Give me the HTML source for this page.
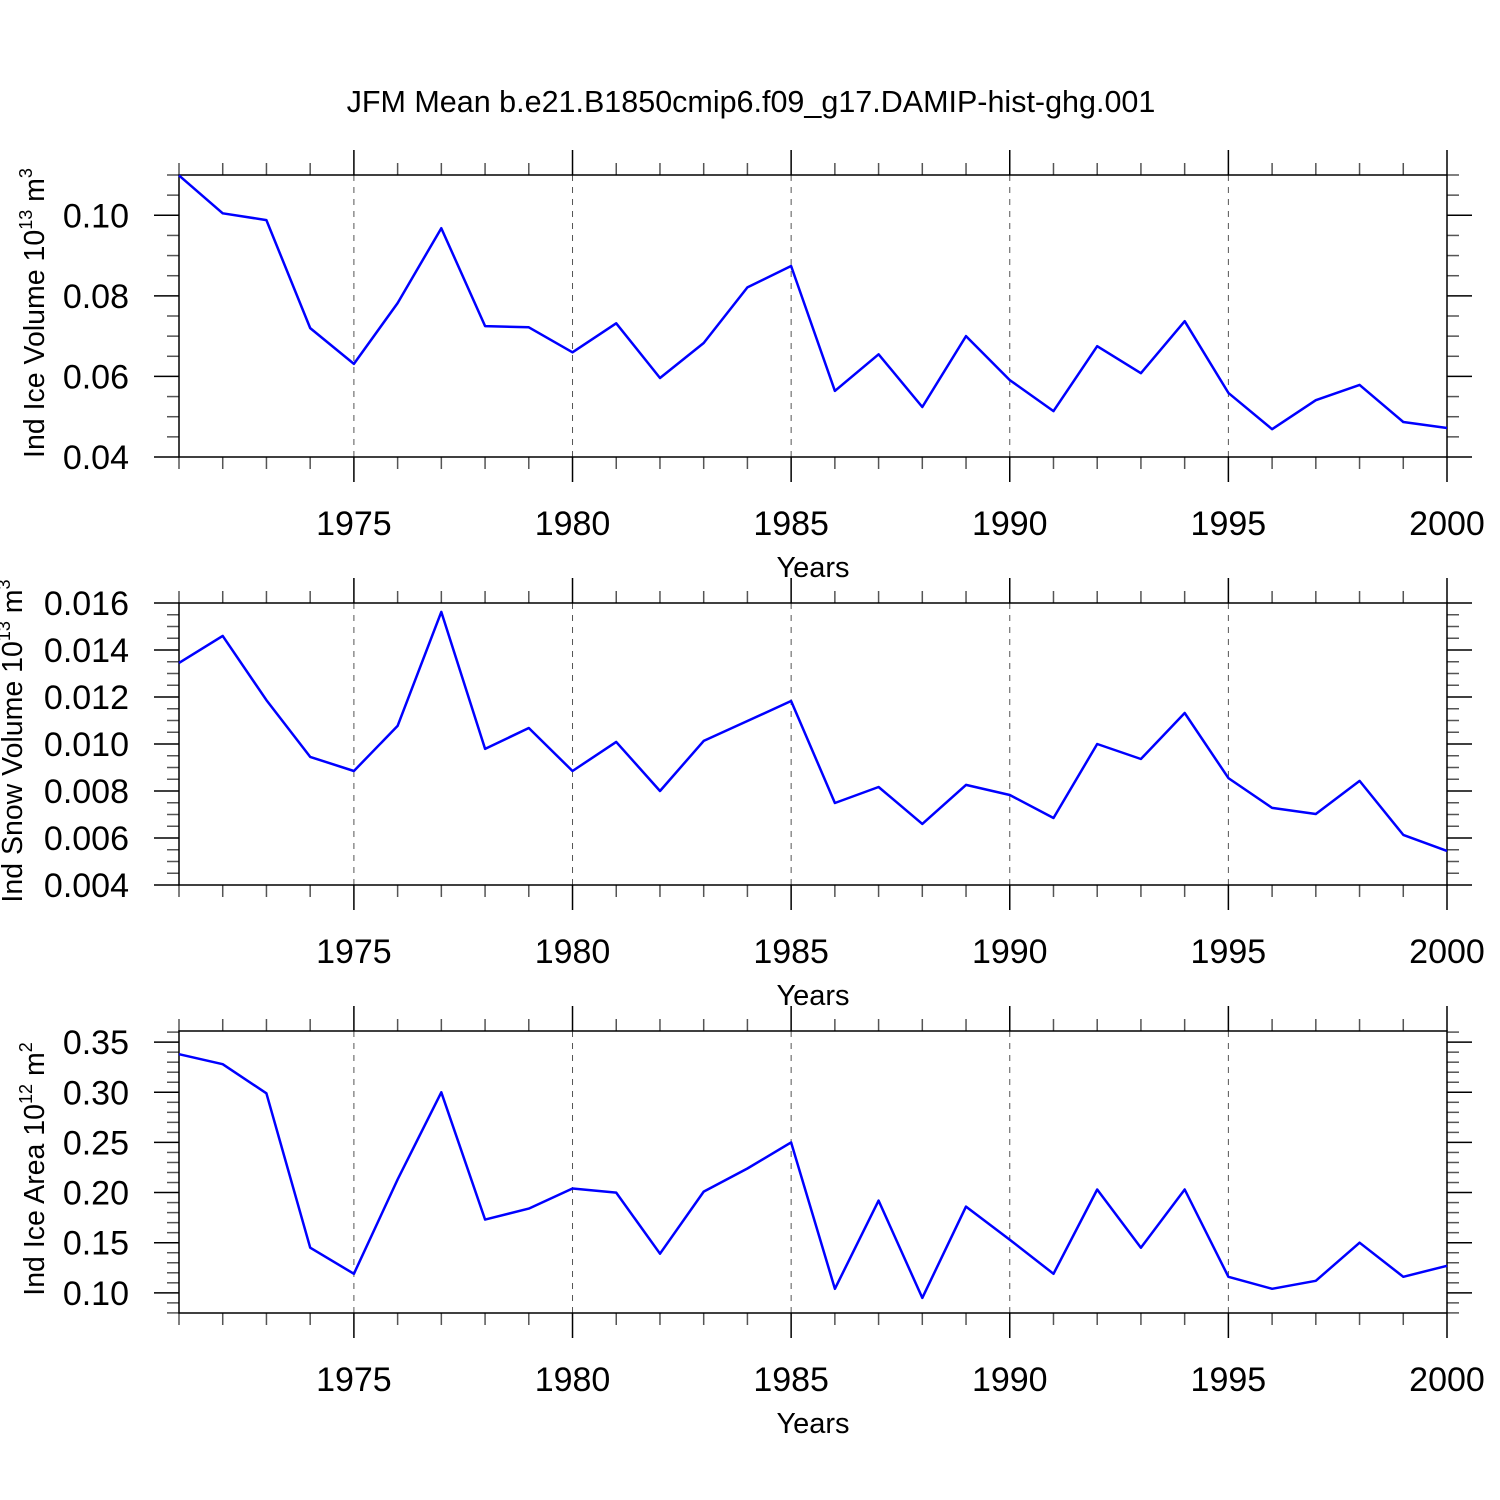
<!DOCTYPE html>
<html><head><meta charset="utf-8"><style>
html,body{margin:0;padding:0;background:#fff;}
svg{display:block;font-family:"Liberation Sans",sans-serif;}
</style></head><body>
<svg id="chart" width="1500" height="1500" viewBox="0 0 1500 1500">
<text x="751" y="112" text-anchor="middle" font-size="30.5">JFM Mean b.e21.B1850cmip6.f09_g17.DAMIP-hist-ghg.001</text>
</svg>
<script>
const years = [1971,1972,1973,1974,1975,1976,1977,1978,1979,1980,1981,1982,1983,1984,1985,1986,1987,1988,1989,1990,1991,1992,1993,1994,1995,1996,1997,1998,1999,2000];
const iceVolume = [0.1099,0.1005,0.0988,0.0720,0.0631,0.0782,0.0968,0.0725,0.0722,0.0660,0.0732,0.0596,0.0683,0.0821,0.0874,0.0564,0.0655,0.0524,0.0700,0.0591,0.0514,0.0675,0.0608,0.0737,0.0559,0.0469,0.0541,0.0579,0.0487,0.0472];
const snowVolume = [0.01345,0.0146,0.01187,0.00945,0.00885,0.01077,0.01562,0.00979,0.01068,0.00885,0.01009,0.0080,0.01013,0.01098,0.01183,0.00749,0.00817,0.0066,0.00826,0.00783,0.00685,0.0100,0.00936,0.01132,0.00855,0.00728,0.00702,0.00843,0.00613,0.00545];
const iceArea = [0.338,0.328,0.299,0.145,0.119,0.213,0.300,0.173,0.184,0.204,0.200,0.139,0.201,0.224,0.250,0.104,0.192,0.095,0.186,0.153,0.119,0.203,0.145,0.203,0.116,0.104,0.112,0.150,0.116,0.127];
const xTicks = [1975,1980,1985,1990,1995,2000];
const iceVolTicks = ["0.04","0.06","0.08","0.10"];
const snowVolTicks = ["0.004","0.006","0.008","0.010","0.012","0.014","0.016"];
const iceAreaTicks = ["0.10","0.15","0.20","0.25","0.30","0.35"];

const svg = document.getElementById('chart');
const NS = 'http://www.w3.org/2000/svg';
const X0 = 179, X1 = 1447, XMIN = 1971, XMAX = 2000;
function xs(v){ return X0 + (v - XMIN) / (XMAX - XMIN) * (X1 - X0); }
function mk(tag, attrs, parent){
  const e = document.createElementNS(NS, tag);
  for (const k in attrs) e.setAttribute(k, attrs[k]);
  (parent || svg).appendChild(e);
  return e;
}

const panels = [
  {top:175, bottom:457, ymin:0.04, ymax:0.11, minor:0.005, ticks:iceVolTicks, data:iceVolume, name:'ice-volume', tx:44, ytitle:['Ind Ice Volume 10','13',' m','3']},
  {top:603, bottom:885, ymin:0.004, ymax:0.016, minor:0.0005, ticks:snowVolTicks, data:snowVolume, name:'snow-volume', tx:22, ytitle:['Ind Snow Volume 10','13',' m','3']},
  {top:1031, bottom:1313, ymin:0.0799, ymax:0.3611, minor:0.01, ticks:iceAreaTicks, data:iceArea, name:'ice-area', tx:44, ytitle:['Ind Ice Area 10','12',' m','2']}
];

panels.forEach(p => {
  const g = mk('g', {});
  
  
  const ys = v => p.bottom - (v - p.ymin) / (p.ymax - p.ymin) * (p.bottom - p.top);
  xTicks.forEach(t => {
    if (t === XMAX) return;
    const l = mk('line', {x1:xs(t), x2:xs(t), y1:p.top, y2:p.bottom, stroke:'#555', 'stroke-width':1, 'stroke-dasharray':'6,6'}, g);
    
    
  });
  for (let yr = XMIN; yr <= XMAX; yr++) {
    const major = yr % 5 === 0;
    const len = major ? 25 : 12;
    const c = major ? '#000' : '#555';
    mk('line', {x1:xs(yr), x2:xs(yr), y1:p.top - len, y2:p.top, stroke:c, 'stroke-width':1.5}, g);
    mk('line', {x1:xs(yr), x2:xs(yr), y1:p.bottom, y2:p.bottom + len, stroke:c, 'stroke-width':1.5}, g);
  }
  xTicks.forEach(t => {
    const tx = mk('text', {x:xs(t), y:p.bottom + 78, 'text-anchor':'middle', 'font-size':34}, g);
    tx.textContent = t;
    
    
  });
  const start = Math.ceil(p.ymin / p.minor - 1e-6);
  for (let k = start; k * p.minor <= p.ymax + 1e-9; k++) {
    const v = k * p.minor;
    const major = p.ticks.some(t => Math.abs(parseFloat(t) - v) < p.minor / 10);
    const len = major ? 25 : 12;
    const c = major ? '#000' : '#555';
    const y = ys(v);
    mk('line', {x1:X0 - len, x2:X0, y1:y, y2:y, stroke:c, 'stroke-width':1.5}, g);
    mk('line', {x1:X1, x2:X1 + len, y1:y, y2:y, stroke:c, 'stroke-width':1.5}, g);
  }
  p.ticks.forEach(t => {
    const tx = mk('text', {x:X0 - 50, y:ys(parseFloat(t)) + 12, 'text-anchor':'end', 'font-size':34}, g);
    tx.textContent = t;
    
    
  });
  const fr = mk('rect', {x:X0, y:p.top, width:X1 - X0, height:p.bottom - p.top, fill:'none', stroke:'#000', 'stroke-width':1.5}, g);
  
  
  const pts = p.data.map((v, i) => xs(years[i]).toFixed(1) + ',' + ys(v).toFixed(1)).join(' ');
  const pl = mk('polyline', {points:pts, fill:'none', stroke:'#0000ff', 'stroke-width':2.5, 'stroke-linejoin':'round'}, g);
  
  
  const xt = mk('text', {x:813, y:p.bottom + 120, 'text-anchor':'middle', 'font-size':29}, g);
  xt.textContent = 'Years';
  
  
  const cy = (p.top + p.bottom) / 2 - 3;
  const yt = mk('text', {x:0, y:0, 'text-anchor':'middle', 'font-size':28.5, transform:'translate(' + p.tx + ',' + cy + ') rotate(-90)'}, g);
  
  
  p.ytitle.forEach((s, i) => {
    const ts = mk('tspan', i % 2 ? {'font-size':18, dy:-12} : (i ? {dy:12} : {}), yt);
    ts.textContent = s;
  });
});
</script>
</body></html>
